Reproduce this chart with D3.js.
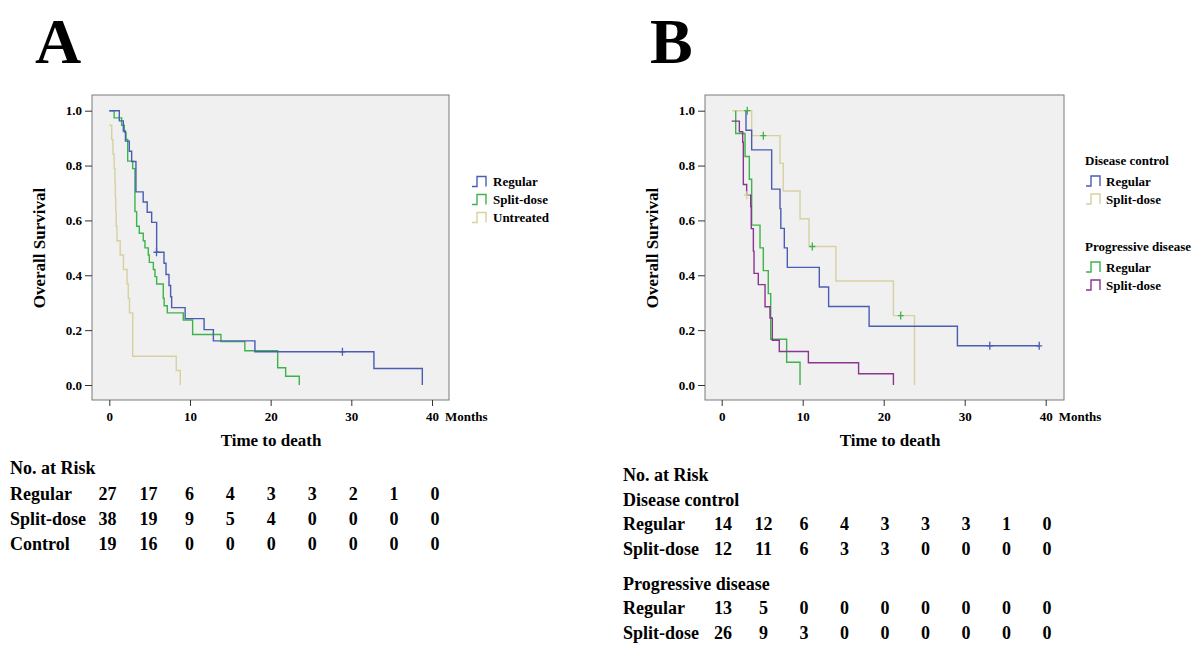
<!DOCTYPE html>
<html><head><meta charset="utf-8">
<script src="https://cdn.jsdelivr.net/npm/d3@7"></script>
<style>
body{margin:0;background:#fff;}
svg text{font-family:"Liberation Serif","Times New Roman",serif;font-weight:bold;fill:#000;}
</style></head>
<body><svg id="c" width="1200" height="661"></svg>
<script>
// ---------- DATA ----------
// Each curve: first pair = [start time, start survival]; next pairs = [time, survival after the step]
const xTicks = [0, 10, 20, 30, 40];
const yTicks = [0, 0.2, 0.4, 0.6, 0.8, 1.0];

// Panel A
const aRegular = [[0,1.0],[1.24,0.963],[1.74,0.926],[2.0,0.889],[2.48,0.852],[2.77,0.815],[3.3,0.704],[4.2,0.667],[4.7,0.630],[5.25,0.593],[5.87,0.484],[6.78,0.444],[7.03,0.403],[7.4,0.363],[7.6,0.322],[7.73,0.282],[9.4,0.242],[11.75,0.202],[12.9,0.161],[18.05,0.121],[32.8,0.060],[38.8,0]];
const aRegularCens = [[5.85,0.484],[28.9,0.121]];
const aSplit = [[0,1.0],[0.6,0.974],[1.53,0.947],[1.86,0.921],[2.07,0.895],[2.28,0.816],[2.9,0.789],[3.18,0.632],[3.39,0.579],[3.72,0.553],[4.21,0.526],[4.42,0.5],[4.83,0.474],[4.96,0.447],[5.46,0.421],[5.66,0.395],[5.87,0.368],[6.69,0.316],[6.8,0.289],[7.19,0.263],[9.17,0.237],[10.33,0.184],[13.84,0.158],[16.8,0.125],[20.87,0.063],[21.86,0.032],[23.55,0]];
const aUntreated = [[0,0.947],[0.3,0.895],[0.45,0.842],[0.6,0.789],[0.7,0.737],[0.75,0.684],[0.8,0.632],[0.85,0.579],[0.95,0.526],[1.35,0.474],[1.75,0.421],[2.2,0.368],[2.35,0.316],[2.5,0.263],[2.9,0.105],[8.3,0.053],[8.8,0]];

// Panel B
const bDcRegular = [[3.0,1.0],[3.0,0.929],[3.7,0.857],[6.17,0.714],[7.2,0.643],[7.3,0.571],[7.73,0.5],[8.1,0.429],[12.05,0.357],[13.2,0.286],[18.2,0.214],[29.1,0.143],[39.2,0.143]];
const bDcRegularCens = [[33.1,0.143],[39.2,0.143]];
const bDcSplit = [[1.31,1.0],[3.7,0.909],[7.2,0.808],[7.6,0.707],[9.67,0.606],[10.78,0.505],[14.1,0.379],[21.2,0.253],[23.8,0]];
const bDcSplitCens = [[3.16,1.0],[5.14,0.909],[11.19,0.505],[22.1,0.253]];
const bPdRegular = [[1.73,1.0],[1.73,0.917],[2.88,0.833],[3.41,0.75],[3.7,0.583],[4.73,0.5],[5.14,0.417],[5.75,0.333],[6.05,0.167],[8.02,0.083],[9.67,0]];
const bPdSplit = [[1.23,0.962],[2.18,0.923],[2.59,0.885],[2.67,0.731],[3.08,0.692],[3.58,0.651],[3.65,0.570],[3.91,0.488],[3.99,0.407],[4.52,0.366],[5.35,0.285],[5.96,0.244],[6.25,0.163],[7.11,0.122],[10.7,0.081],[16.9,0.041],[21.2,0]];
const bPdSplitCens = [[3.1,0.692]];

// Legends / risk tables
const legendA = ["Regular","Split-dose","Untreated"];
const legendBGroups = ["Disease control","Progressive disease"];
const legendBItems = ["Regular","Split-dose"];
const riskA = [
  ["Regular",    [27,17,6,4,3,3,2,1,0]],
  ["Split-dose", [38,19,9,5,4,0,0,0,0]],
  ["Control",    [19,16,0,0,0,0,0,0,0]]
];
const riskBDc = [
  ["Regular",    [14,12,6,4,3,3,3,1,0]],
  ["Split-dose", [12,11,6,3,3,0,0,0,0]]
];
const riskBPd = [
  ["Regular",    [13,5,0,0,0,0,0,0,0]],
  ["Split-dose", [26,9,3,0,0,0,0,0,0]]
];

// ---------- STYLE ----------
const C = {blue:"#4a5db3", green:"#3cb44b", beige:"#d6d1a0", purple:"#8a3590"};

const svg = d3.select("#c");

function panel(o){
  const g = svg.append("g");
  const x = d3.scaleLinear().domain([0,40]).range([o.x0, o.x40]);
  const y = d3.scaleLinear().domain([0,1]).range([385, 110.7]);
  g.append("rect").attr("x",o.left).attr("y",95).attr("width",o.right-o.left).attr("height",305)
    .attr("fill","#f0f0f0").attr("stroke","#7a7a7a").attr("stroke-width",1);
  const ya = g.append("g").attr("transform",`translate(${o.left},0)`)
    .call(d3.axisLeft(y).tickValues(yTicks).tickFormat(d3.format(".1f")).tickSize(7).tickPadding(3));
  const xa = g.append("g").attr("transform",`translate(0,400)`)
    .call(d3.axisBottom(x).tickValues(xTicks).tickSize(6).tickPadding(6));
  [ya,xa].forEach(a=>{
    a.select(".domain").remove();
    a.selectAll("line").attr("stroke","#333");
    a.selectAll("text").attr("font-size",13).attr("font-family","Liberation Serif").attr("font-weight","bold").attr("fill","#000");
  });
  g.append("text").attr("x",x(40)+13).attr("y",421).attr("font-size",13).text("Months");
  g.append("text").attr("transform",`translate(${o.ytx},248) rotate(-90)`).attr("text-anchor","middle")
    .attr("font-size",17).text("Overall Survival");
  g.append("text").attr("x",o.ttx).attr("y",446).attr("text-anchor","middle").attr("font-size",17).text("Time to death");
  g.append("text").attr("x",o.letterX).attr("y",63).attr("font-size",64).text(o.letter);
  return {g,x,y};
}

function curve(p, data, color){
  let d = `M${p.x(data[0][0])},${p.y(data[0][1])}`;
  for(let i=1;i<data.length;i++){
    d += `H${p.x(data[i][0])}V${p.y(data[i][1])}`;
  }
  p.g.append("path").attr("d",d).attr("fill","none").attr("stroke",color).attr("stroke-width",1.4);
}
function cens(p, data, color){
  data.forEach(c=>{
    const cx=p.x(c[0]), cy=p.y(c[1]);
    p.g.append("path").attr("d",`M${cx},${cy-4}V${cy+4}M${cx-3},${cy}H${cx+3}`)
      .attr("stroke",color).attr("stroke-width",1.3).attr("fill","none");
  });
}
function legSym(x0,yc,color){
  svg.append("path").attr("d",`M${x0},${yc+5}H${x0+5}V${yc-5}H${x0+14}V${yc+5}`)
    .attr("fill","none").attr("stroke",color).attr("stroke-width",1.4);
}

// Panel A
const A = panel({left:92,right:449,x0:109.3,x40:432,ytx:45,ttx:271,letter:"A",letterX:35});
curve(A, aUntreated, C.beige);
curve(A, aSplit, C.green);
curve(A, aRegular, C.blue);
cens(A, aRegularCens, C.blue);

const legAColors=[C.blue,C.green,C.beige];
const legAY=[181.5,199.5,217.5];
legendA.forEach((t,i)=>{
  legSym(472,legAY[i],legAColors[i]);
  svg.append("text").attr("x",493).attr("y",legAY[i]+4.5).attr("font-size",13).text(t);
});

// Panel B
const B = panel({left:705,right:1064,x0:721.7,x40:1045.7,ytx:658,ttx:890,letter:"B",letterX:650});
curve(B, bDcSplit, C.beige);
curve(B, bPdRegular, C.green);
curve(B, bPdSplit, C.purple);
curve(B, bDcRegular, C.blue);
cens(B, bDcRegularCens, C.blue);
cens(B, bDcSplitCens, C.green);
cens(B, bPdSplitCens, C.beige);

const legBY=[[181,199],[267,285]];
const legBCol=[[C.blue,C.beige],[C.green,C.purple]];
const legBHead=[160,246];
legendBGroups.forEach((h,gi)=>{
  svg.append("text").attr("x",1085).attr("y",legBHead[gi]+4.5).attr("font-size",13).text(h);
  legendBItems.forEach((t,i)=>{
    legSym(1086,legBY[gi][i],legBCol[gi][i]);
    svg.append("text").attr("x",1106).attr("y",legBY[gi][i]+4.5).attr("font-size",13).text(t);
  });
});

// Risk tables
const colA = d3.scaleLinear().domain([0,8]).range([107.5,435]);
const colB = d3.scaleLinear().domain([0,8]).range([723,1047]);
function riskRows(rows, col, x, ys){
  rows.forEach((r,i)=>{
    svg.append("text").attr("x",x).attr("y",ys[i]).attr("font-size",18).text(r[0]);
    r[1].forEach((v,j)=>{
      svg.append("text").attr("x",col(j)).attr("y",ys[i]).attr("text-anchor","middle").attr("font-size",18).text(v);
    });
  });
}
svg.append("text").attr("x",10).attr("y",474).attr("font-size",18).text("No. at Risk");
riskRows(riskA, colA, 10, [500,525,550]);

svg.append("text").attr("x",623).attr("y",481).attr("font-size",18).text("No. at Risk");
svg.append("text").attr("x",623).attr("y",506).attr("font-size",18).text("Disease control");
riskRows(riskBDc, colB, 623, [530,555]);
svg.append("text").attr("x",623).attr("y",590).attr("font-size",18).text("Progressive disease");
riskRows(riskBPd, colB, 623, [614,639]);
</script></body></html>
